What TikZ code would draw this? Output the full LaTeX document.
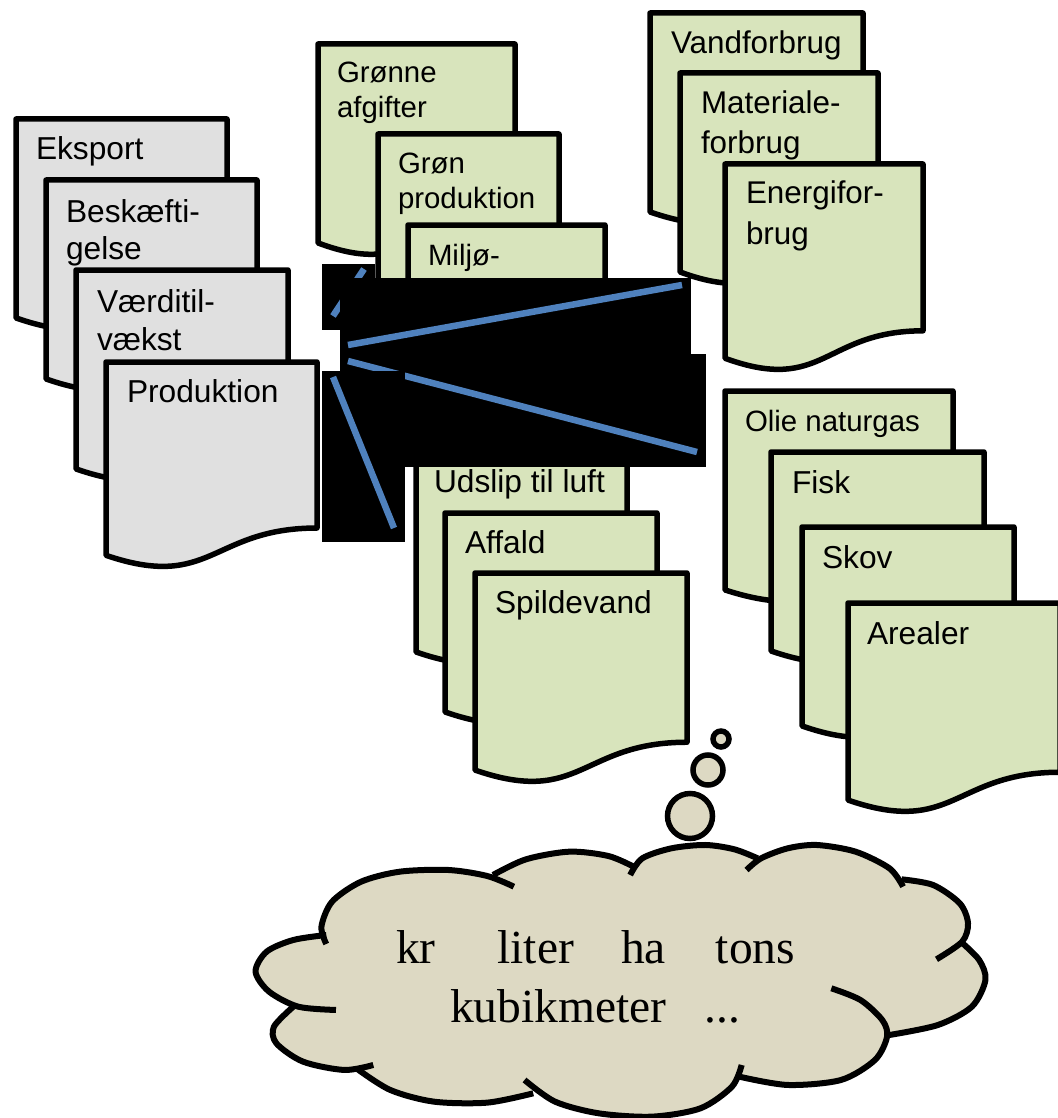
\documentclass[tikz,border=0pt]{standalone}
\usepackage{fontspec}
\setmainfont{Liberation Sans}
\newfontfamily\cloudfont{Liberation Serif}
\definecolor{docgreen}{HTML}{D8E4BC}
\definecolor{docgray}{HTML}{E0E0E0}
\definecolor{cloudtan}{HTML}{DDD9C3}
\definecolor{bluelink}{HTML}{4F81BD}
\tikzset{
  docshape/.style={draw=black,line width=5.5pt,line join=round},
  masking/.style={fill=black,draw=none},
  bluestroke/.style={draw=bluelink,line width=6.5pt},
  cloudstroke/.style={draw=black,line width=6pt,line join=round},
  bubble/.style={draw=black,fill=cloudtan,line width=5.5pt},
  doclabel/.style={anchor=base west,inner sep=0pt,outer sep=0pt,text=black},
  cloudlabel/.style={anchor=base west,inner sep=0pt,outer sep=0pt,text=black,font=\fontsize{47.5}{55}\selectfont\cloudfont},
}
% name, x, y, w, h, colour
\newcommand\docpage[6]{%
  \path[docshape,fill=#6] (#2,#3) coordinate (#1) -- ({#2+#4},#3) -- ({#2+#4},{#3+.802*#5})
    .. controls ({#2+.5*#4},{#3+.802*#5}) and ({#2+.5*#4},{#3+1.1075*#5}) .. (#2,{#3+.934*#5}) -- cycle;}
% name, x, baseline y, size, leading, text
\newcommand\doclabeltext[6]{%
  \node[doclabel,font=\fontsize{#4}{#5}\selectfont] (#1) at (#2,#3) {\begin{tabular}[t]{@{}l@{}}#6\end{tabular}};}
\begin{document}
\begin{tikzpicture}[x=1pt,y=-1pt]
\useasboundingbox (0,0) rectangle (1057,1118);
% grey stack
\docpage{d1}{16}{119}{211}{213}{docgray}
\doclabeltext{t1}{36}{160}{31.7}{37}{Eksport}
\docpage{d2}{46}{180}{211}{213}{docgray}
\doclabeltext{t2}{66}{222}{31.7}{37}{Beskæfti-\\gelse}
\docpage{d3}{76}{270}{212}{213}{docgray}
\doclabeltext{t3}{97}{312}{31.7}{38}{Værditil-\\vækst}
\docpage{d4}{106}{362}{211}{207}{docgray}
\doclabeltext{t4}{127}{402}{31.7}{37}{Produktion}
% upper middle stack
\docpage{d5}{318}{44}{197}{213}{docgreen}
\doclabeltext{t5}{337}{83}{29.4}{35}{Grønne\\afgifter}
\docpage{d6}{378}{134}{181}{213}{docgreen}
\doclabeltext{t6}{398}{174}{29.4}{35}{Grøn\\produktion}
\docpage{d7}{408}{225}{197}{213}{docgreen}
\doclabeltext{t7}{428}{265}{29.4}{35}{Miljø-}
% lower middle stack
\docpage{d8}{416}{453}{211}{213}{docgreen}
\doclabeltext{t8}{434}{492}{31.7}{37}{Udslip til luft}
\docpage{d9}{445}{513}{212}{213}{docgreen}
\doclabeltext{t9}{465}{553}{31.7}{37}{Affald}
\docpage{d10}{475}{573}{212}{211}{docgreen}
\doclabeltext{t10}{495}{613}{31.7}{37}{Spildevand}
% top right stack
\docpage{d11}{650}{13}{213}{213}{docgreen}
\doclabeltext{t11}{671}{54}{31.4}{40}{Vandforbrug}
\docpage{d12}{680}{73}{198}{213}{docgreen}
\doclabeltext{t12}{701}{114}{31.4}{40}{Materiale-\\forbrug}
\docpage{d13}{725}{164}{198}{208}{docgreen}
\doclabeltext{t13}{746}{204}{31.4}{40}{Energifor-\\brug}
% lower right stack
\docpage{d14}{725}{391}{228}{213}{docgreen}
\doclabeltext{t14}{745}{431}{29.4}{35}{Olie naturgas}
\docpage{d15}{771}{452}{213}{213}{docgreen}
\doclabeltext{t15}{792}{493}{31.7}{37}{Fisk}
\docpage{d16}{802}{527}{212}{213}{docgreen}
\doclabeltext{t16}{822}{568}{31.7}{37}{Skov}
\docpage{d17}{848}{603}{212}{211}{docgreen}
\doclabeltext{t17}{867}{644}{31.7}{37}{Arealer}
% masks and blue lines
\coordinate (hubA) at (348,345);
\coordinate (hubB) at (348,361);
\coordinate (hubC) at (333,316);
\coordinate (hubD) at (333,377);
\coordinate (endA) at (682,285);
\coordinate (endB) at (697,452);
\coordinate (endC) at (364,269);
\coordinate (endD) at (394,528);
\fill[masking] (322,264) rectangle (375,330);
\draw[bluestroke] (hubC) -- (endC);
\fill[masking] (340,278) rectangle (691,371);
\fill[masking] (340,354) rectangle (706,467);
\draw[bluestroke] (hubA) -- (endA);
\draw[bluestroke] (hubB) -- (endB);
\fill[masking] (322,371) rectangle (405,542);
\draw[bluestroke] (hubD) -- (endD);
% bubbles
\draw[bubble] (690,816) circle (22.5);
\draw[bubble] (708,770) circle (15);
\draw[bubble] (721,739) circle (8);
% cloud (horizontal and vertical scale differ)
\begin{scope}[shift={(240,720)},x=0.4847pt,y=-0.3333pt]
\fill[cloudtan]
  plot[smooth] coordinates {(178,672)(168,620)(190,545)(250,485)(330,455)(430,450)(510,468)(565,500)}
  -- plot[smooth] coordinates {(522,465)(590,418)(680,395)(760,408)(812,440)}
  -- plot[smooth] coordinates {(805,465)(830,415)(890,385)(960,375)(1020,388)(1068,415)}
  -- plot[smooth] coordinates {(1045,450)(1075,415)(1130,385)(1190,375)(1270,395)(1340,445)(1368,500)}
  -- plot[smooth] coordinates {(1365,478)(1430,495)(1485,550)(1502,610)(1490,665)(1437,718)}
  -- plot[smooth] coordinates {(1487,665)(1525,720)(1538,780)(1510,860)(1440,915)(1340,945)}
  -- plot[smooth] coordinates {(1220,805)(1280,840)(1325,900)(1335,950)(1310,1020)(1240,1080)(1130,1095)(1030,1070)}
  -- plot[smooth] coordinates {(1035,1035)(1015,1100)(950,1165)(850,1190)(740,1180)(650,1145)(587,1080)}
  -- plot[smooth] coordinates {(605,1120)(510,1148)(400,1145)(310,1110)(240,1045)}
  -- plot[smooth] coordinates {(275,1035)(215,1050)(130,1025)(75,970)(70,920)(110,860)}
  -- plot[smooth] coordinates {(198,870)(120,860)(60,815)(32,755)(55,695)(110,660)(178,645)}
  -- cycle;
\draw[cloudstroke] plot[smooth] coordinates {(178,672)(168,620)(190,545)(250,485)(330,455)(430,450)(510,468)(565,500)};
\draw[cloudstroke] plot[smooth] coordinates {(522,465)(590,418)(680,395)(760,408)(812,440)};
\draw[cloudstroke] plot[smooth] coordinates {(805,465)(830,415)(890,385)(960,375)(1020,388)(1068,415)};
\draw[cloudstroke] plot[smooth] coordinates {(1045,450)(1075,415)(1130,385)(1190,375)(1270,395)(1340,445)(1368,500)};
\draw[cloudstroke] plot[smooth] coordinates {(1365,478)(1430,495)(1485,550)(1502,610)(1490,665)(1437,718)};
\draw[cloudstroke] plot[smooth] coordinates {(1487,665)(1525,720)(1538,780)(1510,860)(1440,915)(1340,945)};
\draw[cloudstroke] plot[smooth] coordinates {(1220,805)(1280,840)(1325,900)(1335,950)(1310,1020)(1240,1080)(1130,1095)(1030,1070)};
\draw[cloudstroke] plot[smooth] coordinates {(1035,1035)(1015,1100)(950,1165)(850,1190)(740,1180)(650,1145)(587,1080)};
\draw[cloudstroke] plot[smooth] coordinates {(605,1120)(510,1148)(400,1145)(310,1110)(240,1045)};
\draw[cloudstroke] plot[smooth] coordinates {(275,1035)(215,1050)(130,1025)(75,970)(70,920)(110,860)};
\draw[cloudstroke] plot[smooth] coordinates {(198,870)(120,860)(60,815)(32,755)(55,695)(110,660)(178,645)};
\end{scope}
\node[cloudlabel] (c1) at (396,963) {kr\hspace{62pt}liter\hspace{47pt}ha\hspace{50pt}tons};
\node[cloudlabel] (c2) at (450,1022) {kubikmeter\hspace{38pt}...};
\end{tikzpicture}
\end{document}
